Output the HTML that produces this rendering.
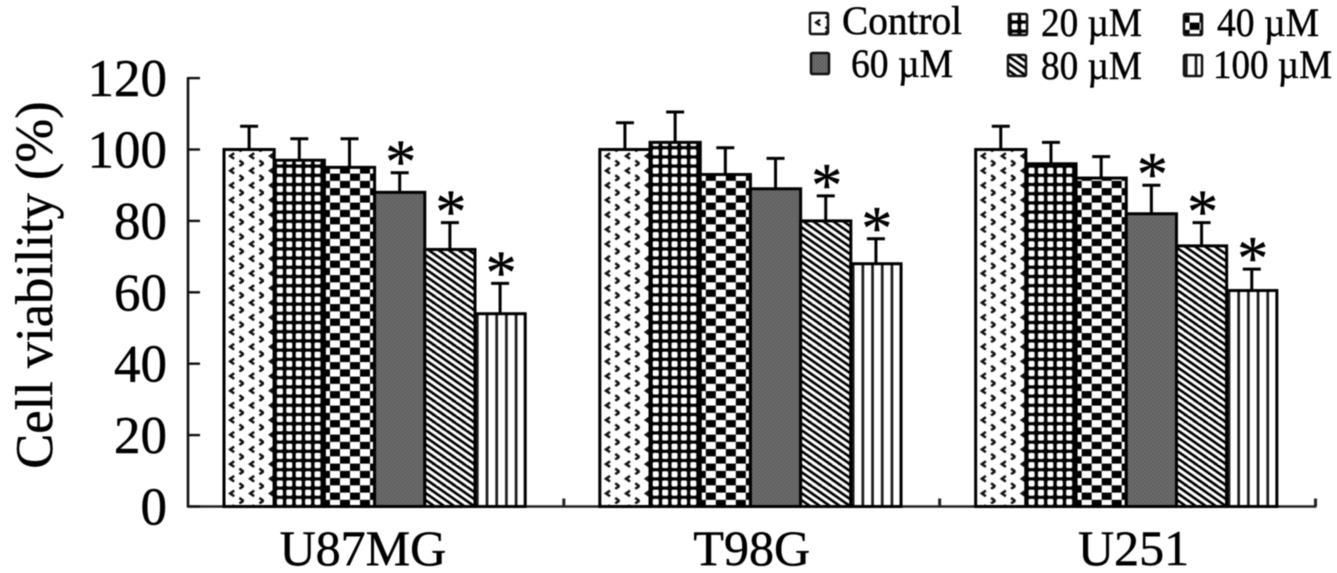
<!DOCTYPE html>
<html lang="en">
<head>
<meta charset="utf-8">
<title>Cell viability chart</title>
<style>
html,body{margin:0;padding:0;background:#fff;width:1337px;height:573px;overflow:hidden}
svg{display:block;filter:blur(0.55px)}
text{font-family:"Liberation Serif",serif;fill:#000;stroke:#000;stroke-width:0.45px}
</style>
</head>
<body>
<svg id="chart" width="1337" height="573" viewBox="0 0 1337 573" xmlns="http://www.w3.org/2000/svg">
<defs>
<pattern id="p0" patternUnits="userSpaceOnUse" x="0" y="-2.4" width="20" height="14.67">
<rect width="20" height="14.67" fill="#fff"/>
<path d="M10.2 1.2L6.2 4L10.2 6.8" fill="none" stroke="#111" stroke-width="2.5"/>
<path d="M15.4 8.53L19.4 11.33L15.4 14.13" fill="none" stroke="#111" stroke-width="2.5"/>
</pattern>
<pattern id="p1" patternUnits="userSpaceOnUse" x="1" width="9.4" height="9.2">
<rect width="9.4" height="9.2" fill="#000"/>
<rect x="1.7" y="1.6" width="6" height="6" rx="1.4" fill="#fff"/>
</pattern>
<pattern id="p2" patternUnits="userSpaceOnUse" x="1.6" y="0.6" width="20" height="14.5">
<rect width="20" height="14.5" fill="#fff"/>
<rect x="4" y="0" width="10" height="7.25" fill="#000"/>
<rect x="14" y="7.25" width="6" height="7.25" fill="#000"/>
<rect x="0" y="7.25" width="4" height="7.25" fill="#000"/>
</pattern>
<pattern id="p3" patternUnits="userSpaceOnUse" width="4" height="4">
<rect width="4" height="4" fill="#6e6e6e"/>
<rect width="2" height="2" fill="#5e5e5e"/>
<rect x="2" y="2" width="2" height="2" fill="#5e5e5e"/>
</pattern>
<pattern id="p4" patternUnits="userSpaceOnUse" width="10" height="7">
<rect width="10" height="7" fill="#fff"/>
<path d="M-5 -3.5L15 10.5M-15 -3.5L5 10.5M5 -3.5L25 10.5" stroke="#000" stroke-width="2.6" fill="none"/>
</pattern>
<pattern id="p5" patternUnits="userSpaceOnUse" x="3.65" width="9.7" height="10">
<rect width="9.7" height="10" fill="#fff"/>
<rect x="7" y="0" width="2.7" height="10" fill="#1a1a1a"/>
</pattern>
</defs>
<g id="plot"></g>
<g id="legend"></g>
</svg>
<script>
const categories = ['U87MG', 'T98G', 'U251'];
const seriesNames = ['Control', '20 µM', '40 µM', '60 µM', '80 µM', '100 µM'];
const valuesControl = [100, 100, 100];
const values20 = [97, 102, 96];
const values40 = [95, 93, 92];
const values60 = [88, 89, 82];
const values80 = [72, 80, 73];
const values100 = [54, 68, 60.5];
const errorsControl = [6.5, 7.5, 6.5];
const errors20 = [6, 8.5, 6];
const errors40 = [8, 7.5, 6];
const errors60 = [5.5, 8.5, 8];
const errors80 = [7.5, 7, 6.5];
const errors100 = [8.5, 7, 6];
const significant60 = [true, false, true];
const significant80 = [true, true, true];
const significant100 = [true, true, true];
const yTicks = [0, 20, 40, 60, 80, 100, 120];

const seriesValues = [valuesControl, values20, values40, values60, values80, values100];
const seriesErrors = [errorsControl, errors20, errors40, errors60, errors80, errors100];
const noSignificance = [false, false, false];
const seriesSignificant = [noSignificance, noSignificance, noSignificance, significant60, significant80, significant100];

const NS = 'http://www.w3.org/2000/svg';
const AX_LEFT = 188, AX_RIGHT = 1315.5, AX_BOTTOM = 506.5, PX_PER_UNIT = 3.57;
const GROUP_W = (AX_RIGHT - AX_LEFT) / categories.length;
const BAR_W = 50.2, GROUP_PAD = 36;
const labelShift = [-13, 0, 6];
const y = v => AX_BOTTOM - v * PX_PER_UNIT;
const groupX = i => AX_LEFT + i * GROUP_W;
const barX = (g, s) => groupX(g) + GROUP_PAD + s * BAR_W;

function mk(tag, attrs, parent) {
  const el = document.createElementNS(NS, tag);
  for (const k in attrs) el.setAttribute(k, attrs[k]);
  parent.appendChild(el);
  return el;
}
const plot = document.getElementById('plot');
const legend = document.getElementById('legend');

const yAxis = mk('line', {x1: AX_LEFT, x2: AX_LEFT, y1: y(120) - 1, y2: AX_BOTTOM + 1, stroke: '#111', 'stroke-width': 2.6}, plot);


const xAxis = mk('line', {x1: AX_LEFT, x2: AX_RIGHT + 1, y1: AX_BOTTOM, y2: AX_BOTTOM, stroke: '#222', 'stroke-width': 2.6}, plot);



yTicks.forEach(t => {
  const tick = mk('line', {x1: AX_LEFT, x2: AX_LEFT + 12, y1: y(t), y2: y(t), stroke: '#111', 'stroke-width': 2.4}, plot);
  
  
  const label = mk('text', {x: 167, y: y(t) + 18, 'text-anchor': 'end', 'font-size': 53}, plot);
  label.textContent = t;
  
  
});

const title = mk('text', {transform: 'translate(52,285) rotate(-90)', 'text-anchor': 'middle', 'font-size': 52.5}, plot);
title.textContent = 'Cell viability (%)';



categories.forEach((c, g) => {
  const tick = mk('line', {x1: groupX(g + 1), x2: groupX(g + 1), y1: AX_BOTTOM - 8, y2: AX_BOTTOM, stroke: '#222', 'stroke-width': 3}, plot);
  
  
  const label = mk('text', {x: groupX(g) + GROUP_W / 2 + labelShift[g], y: 565, 'text-anchor': 'middle', 'font-size': 50}, plot);
  label.textContent = c;
  
  

  seriesValues.forEach((vals, s) => {
    const v = vals[g], e = seriesErrors[s][g], x = barX(g, s), top = y(v);
    const cx = x + BAR_W / 2;
    const err = mk('path', {d: `M${cx} ${top}V${y(v + e)}M${cx - 9} ${y(v + e)}H${cx + 9}`, stroke: '#000', 'stroke-width': 3, fill: 'none'}, plot);
    
    
    const wrap = mk('g', {transform: `translate(${x},${AX_BOTTOM})`}, plot);
    const bar = mk('rect', {x: 0, y: top - AX_BOTTOM, width: BAR_W, height: AX_BOTTOM - top, fill: `url(#p${s})`, stroke: '#000', 'stroke-width': 3}, wrap);
    
    
    if (seriesSignificant[s][g]) {
      const star = mk('text', {x: cx + 1, y: y(v + e) + 10, 'text-anchor': 'middle', 'font-size': 62}, plot);
      star.textContent = '*';
      
      
    }
  });
});

const legendSwatchX = [810, 1009, 1184, 811, 1008, 1184];
const legendSwatchY = [13, 14, 14, 53, 55, 55];
const legendTextX = [842, 1041, 1217, 851, 1041, 1213];
const legendTextY = [34, 36, 36, 77, 79, 78];
const legendTextW = [120, 101, 102, 102, 101, 119];
seriesNames.forEach((name, s) => {
  const swatchWrap = mk('g', {transform: `translate(${legendSwatchX[s]},${legendSwatchY[s] + 8})`}, legend);
  const swatch = mk('rect', {x: 0, y: -8, width: 18, height: 21, rx: 1.5, fill: `url(#p${s})`, stroke: '#111', 'stroke-width': 2.5}, swatchWrap);
  
  
  const text = mk('text', {x: legendTextX[s], y: legendTextY[s], 'font-size': 40, textLength: legendTextW[s], lengthAdjust: 'spacingAndGlyphs'}, legend);
  text.textContent = name;
  
  
});
</script>
</body>
</html>
